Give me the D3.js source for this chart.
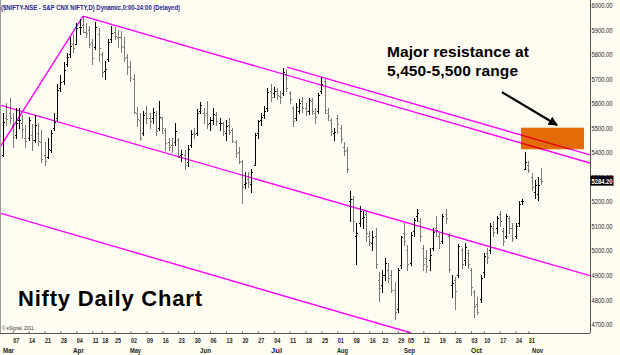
<!DOCTYPE html>
<html><head><meta charset="utf-8">
<script src="https://cdn.jsdelivr.net/npm/d3@7/dist/d3.min.js"></script>
<style>
body{margin:0;background:#fffcf2}
svg{display:block}
</style>
</head><body>
<svg id="c" width="620" height="355"></svg>
<script>
// ---------------- DATA ----------------
const tradingDays = [
 "3/1","3/3","3/4","3/7","3/8","3/9","3/10","3/11","3/14","3/15","3/16","3/17","3/18","3/21","3/22","3/23","3/24","3/25","3/28","3/29","3/30","3/31",
 "4/1","4/4","4/5","4/6","4/7","4/8","4/11","4/13","4/15","4/18","4/19","4/20","4/21","4/25","4/26","4/27","4/28","4/29",
 "5/2","5/3","5/4","5/5","5/6","5/9","5/10","5/11","5/12","5/13","5/16","5/17","5/18","5/19","5/20","5/23","5/24","5/25","5/26","5/27","5/30","5/31",
 "6/1","6/2","6/3","6/6","6/7","6/8","6/9","6/10","6/13","6/14","6/15","6/16","6/17","6/20","6/21","6/22","6/23","6/24","6/27","6/28","6/29","6/30",
 "7/1","7/4","7/5","7/6","7/7","7/8","7/11","7/12","7/13","7/14","7/15","7/18","7/19","7/20","7/21","7/22","7/25","7/26","7/27","7/28","7/29",
 "8/1","8/2","8/3","8/4","8/5","8/8","8/9","8/10","8/11","8/12","8/16","8/17","8/18","8/19","8/22","8/23","8/24","8/25","8/26","8/29","8/30",
 "9/2","9/5","9/6","9/7","9/8","9/9","9/12","9/13","9/14","9/15","9/16","9/19","9/20","9/21","9/22","9/23","9/26","9/27","9/28","9/29","9/30",
 "10/3","10/4","10/5","10/7","10/10","10/11","10/12","10/13","10/14","10/17","10/18","10/19","10/20","10/21","10/24","10/25","10/26","10/28","10/31",
 "11/1","11/2","11/3","11/4"
];
const openPx = [
 5390,5540,5560,5510,5470,5530,5520,5460,5460,5470, 5450,5480,5440,5390,5380,5410,5500,5540,5660,5690,
 5760,5800,5840,5840,5910,5920,5890,5900,5850,5830, 5880,5800,5730,5780,5860,5890,5870,5870,5830,5790,
 5750,5700,5560,5530,5480,5560,5540,5540,5550,5500, 5540,5490,5440,5430,5440,5450,5390,5390,5360,5430,
 5480,5480,5570,5560,5560,5520,5530,5550,5520,5520, 5480,5510,5490,5440,5400,5360,5270,5290,5270,5350,
 5480,5530,5550,5580,5650,5640,5650,5630,5640,5720, 5640,5580,5540,5570,5610,5580,5570,5610,5560,5570,
 5650,5690,5560,5530,5480,5540,5500,5420,5410,5200, 5210,5060,5110,5130,5150,5060,5030,5060,4880,4860,
 4900,4920,4900,4840,4760,4940,5070,5000,4950,5080, 5140,5120,5010,4970,4960,5010,5090,5060,5040,5150,
 5060,4860,4880,4900,5000,4960,4990,4920,4830,4780, 4800,4910,4990,5000,5090,5090,5150,5080,5060,5130,
 5090,5060,5110,5200,5330,5350,5300,5240,5230,5290
];
const highPx = [
 5560,5600,5620,5560,5580,5580,5550,5510,5545,5515, 5550,5520,5490,5440,5460,5490,5560,5680,5715,5768,
 5805,5870,5880,5925,5945,5955,5925,5915,5860,5930, 5905,5810,5770,5860,5915,5910,5900,5895,5870,5800,
 5770,5720,5585,5560,5570,5590,5560,5580,5570,5610, 5545,5500,5460,5460,5520,5460,5410,5410,5430,5490,
 5500,5575,5605,5580,5610,5545,5580,5565,5540,5525, 5530,5540,5500,5450,5420,5370,5320,5320,5330,5480,
 5530,5560,5590,5660,5680,5665,5660,5650,5745,5740, 5650,5590,5600,5615,5625,5600,5620,5620,5580,5640,
 5705,5700,5580,5540,5500,5550,5510,5440,5420,5243, 5220,5110,5180,5160,5160,5080,5080,5090,4910,4920,
 4970,4950,4920,4870,4930,5060,5110,5020,5075,5130, 5170,5130,5020,5000,5010,5090,5140,5070,5150,5170,
 5070,4900,4890,5025,5010,5030,5000,4930,4840,4810, 4900,4990,5010,5110,5120,5140,5160,5090,5150,5140,
 5110,5110,5200,5210,5400,5365,5315,5285,5300,5336
];
const lowPx = [
 5385,5510,5520,5420,5460,5500,5460,5420,5450,5410, 5440,5430,5360,5350,5375,5400,5490,5530,5650,5680,
 5750,5790,5810,5840,5880,5890,5870,5830,5760,5820, 5770,5705,5700,5770,5850,5860,5830,5810,5770,5720,
 5690,5560,5505,5450,5470,5520,5500,5520,5470,5490, 5480,5410,5410,5400,5430,5380,5365,5330,5345,5420,
 5460,5470,5560,5520,5500,5490,5515,5510,5490,5470, 5450,5475,5440,5380,5355,5195,5255,5260,5240,5350,
 5460,5510,5540,5570,5610,5625,5615,5600,5635,5650, 5600,5505,5530,5560,5565,5550,5555,5555,5520,5560,
 5640,5560,5530,5470,5450,5480,5440,5390,5320,5120, 5080,4946,5100,5090,5040,5020,5000,4930,4795,4830,
 4880,4870,4830,4720,4750,4930,5020,4920,4940,5060, 5120,5040,4920,4910,4920,5000,5060,5010,5030,5110,
 4910,4810,4760,4890,4930,4940,4930,4820,4728,4740, 4790,4890,4950,4990,5060,5070,5100,5020,5050,5070,
 5040,5050,5100,5190,5330,5320,5245,5215,5205,5270
];
const closePx = [
 5522,5536,5538,5463,5520,5531,5494,5445,5531,5449, 5511,5446,5373,5364,5413,5480,5522,5654,5687,5736,
 5787,5833,5826,5908,5910,5891,5885,5842,5785,5911, 5824,5729,5741,5851,5884,5874,5868,5833,5785,5749,
 5701,5565,5537,5459,5551,5541,5529,5565,5486,5544, 5499,5438,5420,5428,5486,5386,5394,5349,5413,5476,
 5473,5560,5592,5550,5516,5532,5556,5526,5521,5485, 5508,5482,5447,5396,5366,5257,5275,5278,5320,5471,
 5526,5545,5567,5647,5627,5650,5632,5626,5728,5660, 5616,5526,5585,5599,5581,5567,5613,5567,5542,5633,
 5680,5574,5547,5488,5482,5516,5456,5404,5331,5211, 5118,5072,5161,5138,5072,5035,5056,4944,4845,4898,
 4948,4888,4839,4747,4919,5056,5040,4946,5064,5124, 5153,5059,4946,4937,4980,5076,5084,5031,5140,5133,
 4923,4867,4835,5017,4945,5015,4943,4849,4772,4751, 4888,4979,4974,5099,5077,5132,5118,5037,5139,5091,
 5049,5098,5191,5201,5360,5326,5258,5265,5265,5284.2
];
const priceTicks = [4700,4800,4900,5000,5100,5200,5300,5400,5500,5600,5700,5800,5900,6000];
const monthNames = ["Jan","Feb","Mar","Apr","May","Jun","Jul","Aug","Sep","Oct","Nov","Dec"];
const lastPrice = 5284.20;
// trend lines as [bar index, price] pairs
const upTrendLine   = [[-0.99, 5421], [25.1, 5955]];
const aprTopLine    = [[25.1, 5955], [184.37, 5356]];
const julTopLine    = [[89.2, 5747], [184.37, 5389]];
const midChannel    = [[-0.99, 5592], [184.37, 4897]];
const lowChannel    = [[-0.99, 5152], [128.2, 4663.4]];
const resistanceZone = {from: 162.7, to: 182.5, low: 5412, high: 5500};
const arrowPts = [[156.7, 5645], [174.0, 5511]];
const headerText = "($NIFTY-NSE - S&P CNX NIFTY,D) Dynamic,0:00-24:00 (Delayed)";
const titleText = "Nifty Daily Chart";
const noteLines = ["Major resistance at", "5,450-5,500 range"];

// ---------------- CHART ----------------
const W = 620, H = 355;
const plot = {left: 0, right: 590, top: 0, bottom: 333};
const svg = d3.select("#c");
const x = d3.scaleLinear().domain([-0.99, 184.37]).range([plot.left, plot.right]);
const y = d3.scaleLinear().domain([4663.4, 6020.4]).range([plot.bottom, plot.top]);
const narrow = "'Liberation Sans Narrow','Arial Narrow','Liberation Sans',sans-serif";

svg.append("rect").attr("width", W).attr("height", H).attr("fill", "#fffcf2");

const defs = svg.append("defs");
defs.append("clipPath").attr("id", "clip").append("rect")
  .attr("x", plot.left).attr("y", plot.top)
  .attr("width", plot.right - plot.left).attr("height", plot.bottom - plot.top);
const mk = defs.append("marker").attr("id", "ah").attr("viewBox", "0 0 10 10")
  .attr("refX", 9).attr("refY", 5).attr("markerWidth", 4.2).attr("markerHeight", 4.2)
  .attr("markerUnits", "strokeWidth").attr("orient", "auto");
mk.append("path").attr("d", "M0,0 L10,5 L0,10 Z").attr("fill", "#000");

const bars = tradingDays.map((d, i) => ({i, d, o: openPx[i], h: highPx[i], l: lowPx[i], c: closePx[i]}));

// header
svg.append("text").attr("x", 1).attr("y", 9.5).text(headerText)
  .attr("font-family", narrow)
  .attr("font-weight", "bold").attr("font-size", 8).attr("fill", "#23238e")
  .attr("textLength", 179).attr("lengthAdjust", "spacingAndGlyphs");

const g = svg.append("g").attr("clip-path", "url(#clip)");

// resistance zone
g.append("rect")
  .attr("x", x(resistanceZone.from)).attr("y", y(resistanceZone.high))
  .attr("width", x(resistanceZone.to) - x(resistanceZone.from))
  .attr("height", y(resistanceZone.low) - y(resistanceZone.high))
  .attr("fill", "#e36c09");

// bars
const px = i => Math.round(x(i)) + 0.5;
const bg = g.append("g").attr("shape-rendering", "crispEdges");
bars.forEach(b => {
  const col = b.c >= b.o ? "#000000" : "#7a7a7a";
  const cx = px(b.i);
  bg.append("line").attr("x1", cx).attr("x2", cx)
    .attr("y1", Math.round(y(b.h))).attr("y2", Math.round(y(b.l)) + 1)
    .attr("stroke", col).attr("stroke-width", 1);
  bg.append("line").attr("x1", cx - 1.5).attr("x2", cx)
    .attr("y1", Math.round(y(b.o)) + 0.5).attr("y2", Math.round(y(b.o)) + 0.5)
    .attr("stroke", col).attr("stroke-width", 1);
  bg.append("line").attr("x1", cx).attr("x2", cx + 1.5)
    .attr("y1", Math.round(y(b.c)) + 0.5).attr("y2", Math.round(y(b.c)) + 0.5)
    .attr("stroke", col).attr("stroke-width", 1);
});

// trend lines
const line = d3.line().x(d => x(d[0])).y(d => y(d[1]));
[upTrendLine, aprTopLine, julTopLine, midChannel, lowChannel].forEach(L => {
  g.append("path").attr("d", line(L)).attr("fill", "none")
    .attr("stroke", "#ff00ff").attr("stroke-width", 1.4)
    .style("mix-blend-mode", "multiply");
});

// arrow
svg.append("line")
  .attr("x1", x(arrowPts[0][0])).attr("y1", y(arrowPts[0][1]))
  .attr("x2", x(arrowPts[1][0])).attr("y2", y(arrowPts[1][1]))
  .attr("stroke", "#000").attr("stroke-width", 2.2).attr("marker-end", "url(#ah)");

// annotation text
const note = svg.append("g").attr("font-family", "'Liberation Sans',Arial,sans-serif")
  .attr("font-weight", "bold").attr("font-size", 15.5).attr("fill", "#000");
note.append("text").attr("x", 387).attr("y", 57).text(noteLines[0]).attr("textLength", 142).attr("lengthAdjust", "spacing");
note.append("text").attr("x", 387).attr("y", 76).text(noteLines[1]).attr("textLength", 131).attr("lengthAdjust", "spacing");

svg.append("text").attr("x", 18).attr("y", 306).text(titleText)
  .attr("font-family", "'Liberation Sans',Arial,sans-serif").attr("font-weight", "bold")
  .attr("font-size", 22).attr("fill", "#000").attr("textLength", 184).attr("lengthAdjust", "spacing");

svg.append("text").attr("x", 2).attr("y", 330).text("\u00a9 eSignal, 2011")
  .attr("font-family", "'Liberation Sans',Arial,sans-serif").attr("font-size", 4.5).attr("fill", "#333");

// frame lines
svg.append("line").attr("x1", 0.5).attr("x2", 0.5).attr("y1", 0).attr("y2", plot.bottom)
  .attr("stroke", "#9a9a9a");

// Y axis (right)
const yAxis = d3.axisRight(y).tickValues(priceTicks).tickFormat(d3.format(".2f")).tickSize(0).tickPadding(1);
const ya = svg.append("g").attr("transform", `translate(${plot.right + 0.5},0)`).call(yAxis);
ya.select(".domain").attr("stroke", "#555").attr("d", `M0,${plot.top}V${plot.bottom}`);
ya.selectAll("text").attr("font-family", narrow)
  .attr("font-size", 8).attr("fill", "#222")
  .attr("textLength", 21).attr("lengthAdjust", "spacingAndGlyphs");

// last price tag
const lp = svg.append("g").attr("transform", `translate(${plot.right + 0.5},${y(lastPrice)})`);
lp.append("rect").attr("x", 0).attr("y", -5).attr("width", 23).attr("height", 10).attr("fill", "#000");
lp.append("text").attr("x", 1).attr("y", 3).text(d3.format(".2f")(lastPrice))
  .attr("font-family", narrow)
  .attr("font-size", 8).attr("font-weight", "bold").attr("fill", "#fff")
  .attr("textLength", 21).attr("lengthAdjust", "spacingAndGlyphs");

// X axis (bottom)
const parse = s => { const [m, d] = s.split("/").map(Number); return new Date(2011, m - 1, d); };
const weekStarts = [], monthStarts = [];
bars.forEach((b, i) => {
  const dt = parse(b.d);
  if (i > 0) {
    const prev = parse(bars[i - 1].d);
    if (dt.getDay() <= prev.getDay() || (dt - prev) >= 7 * 864e5) weekStarts.push(i);
    if (dt.getMonth() !== prev.getMonth()) monthStarts.push(i);
  } else monthStarts.push(i);
});
const xAxis = d3.axisBottom(x).tickValues(weekStarts)
  .tickFormat(i => String(parse(tradingDays[i]).getDate()).padStart(2, "0"))
  .tickSize(2).tickPadding(2);
const xa = svg.append("g").attr("transform", `translate(0,${plot.bottom + 0.5})`).call(xAxis);
xa.select(".domain").attr("stroke", "#555").attr("d", `M${plot.left},0H${plot.right}`);
xa.selectAll(".tick line").attr("stroke", "#555").attr("y2", -2);
xa.selectAll("text").attr("text-anchor", "start").attr("x", 0)
  .attr("font-family", narrow)
  .attr("font-size", 8).attr("font-weight", "bold").attr("fill", "#222")
  .attr("textLength", 6).attr("lengthAdjust", "spacingAndGlyphs");

svg.append("g").selectAll("text").data(monthStarts).join("text")
  .attr("x", i => Math.round(x(i)))
  .attr("y", 353)
  .text(i => monthNames[parse(tradingDays[i]).getMonth()])
  .attr("font-family", narrow)
  .attr("font-size", 8).attr("font-weight", "bold").attr("fill", "#222")
  .attr("textLength", 11).attr("lengthAdjust", "spacingAndGlyphs");
</script>
</body></html>
